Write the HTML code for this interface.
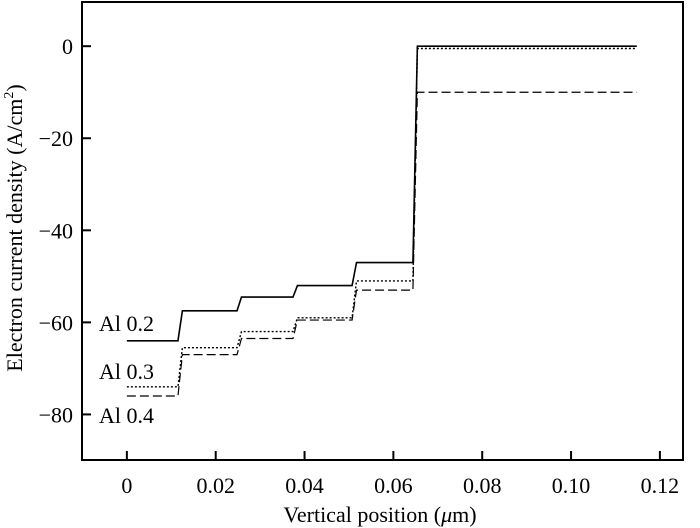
<!DOCTYPE html>
<html><head><meta charset="utf-8"><style>
body{margin:0;background:#fff}
svg{display:block;font-family:"Liberation Serif",serif}
</style></head><body>
<svg width="700" height="528" viewBox="0 0 700 528">
<rect x="82" y="2" width="601" height="458" fill="none" stroke="#000" stroke-width="2"/>
<g id="ticks"></g>
<g id="lines"></g>
<text x="0" y="0" transform="translate(22,228) rotate(-90)" text-anchor="middle" font-size="22">Electron current density (A/cm<tspan font-size="14" dy="-9">2</tspan><tspan dy="9">)</tspan></text>
<text x="380" y="522" text-anchor="middle" font-size="22">Vertical position (<tspan font-style="italic">μ</tspan>m)</text>
<text x="99" y="331" font-size="22">Al 0.2</text>
<text x="99" y="379" font-size="22">Al 0.3</text>
<text x="99" y="423" font-size="22">Al 0.4</text>
<script>
const xTicks=[0,0.02,0.04,0.06,0.08,0.10,0.12];
const xTickLabels=["0","0.02","0.04","0.06","0.08","0.10","0.12"];
const yTicks=[0,-20,-40,-60,-80];
const yTickLabels=["0","−20","−40","−60","−80"];
const stepX=[0,0.0115,0.0248,0.0374,0.0507,0.0644,0.1148];
const al02=[-64,-57.5,-54.5,-52,-47,0];
const al03=[-74,-65.5,-62,-59,-51,-0.5];
const al04=[-76,-67,-63.5,-59.5,-53,-10];
const X0=82,X1=683,Y0=2,Y1=460,xmin=-0.0101,xmax=0.1252,ymin=-89.9,ymax=9.6;
const sx=v=>X0+(v-xmin)/(xmax-xmin)*(X1-X0);
const sy=v=>Y0+(ymax-v)/(ymax-ymin)*(Y1-Y0);
const NS="http://www.w3.org/2000/svg";
const tg=document.getElementById('ticks');
xTicks.forEach((t,i)=>{
  const l=document.createElementNS(NS,'line');
  
  
  l.setAttribute('x1',sx(t));l.setAttribute('x2',sx(t));l.setAttribute('y1',Y1);l.setAttribute('y2',Y1-9);
  l.setAttribute('stroke','#000');l.setAttribute('stroke-width','2');tg.appendChild(l);
  const tx=document.createElementNS(NS,'text');
  
  
  tx.setAttribute('x',sx(t));tx.setAttribute('y',493);tx.setAttribute('text-anchor','middle');tx.setAttribute('font-size','22');
  tx.textContent=xTickLabels[i];tg.appendChild(tx);
});
yTicks.forEach((t,i)=>{
  const l=document.createElementNS(NS,'line');
  
  
  l.setAttribute('x1',X0);l.setAttribute('x2',X0+9);l.setAttribute('y1',sy(t));l.setAttribute('y2',sy(t));
  l.setAttribute('stroke','#000');l.setAttribute('stroke-width','2');tg.appendChild(l);
  const tx=document.createElementNS(NS,'text');
  
  
  tx.setAttribute('x',73);tx.setAttribute('y',sy(t)+8);tx.setAttribute('text-anchor','end');tx.setAttribute('font-size','22');
  tx.textContent=yTickLabels[i];tg.appendChild(tx);
});
const lg=document.getElementById('lines');
function drawSeries(vals,name,dash,w){
  let d='';
  vals.forEach((v,i)=>{
    const xa=stepX[i],xb=stepX[i+1];
    if(i===0)d+='M'+sx(xa)+','+sy(v);
    else d+='L'+sx(xa+0.001)+','+sy(v);
    d+='L'+sx(xb)+','+sy(v);
  });
  const p=document.createElementNS(NS,'path');
  
  
  p.setAttribute('d',d);p.setAttribute('fill','none');p.setAttribute('stroke','#000');
  p.setAttribute('stroke-width',w);if(dash)p.setAttribute('stroke-dasharray',dash);
  lg.appendChild(p);
}
drawSeries(al02,'line-al-0-2',null,1.6);
drawSeries(al03,'line-al-0-3','2,2',1.4);
drawSeries(al04,'line-al-0-4','9,4',1.2);
</script>
</svg>
</body></html>
